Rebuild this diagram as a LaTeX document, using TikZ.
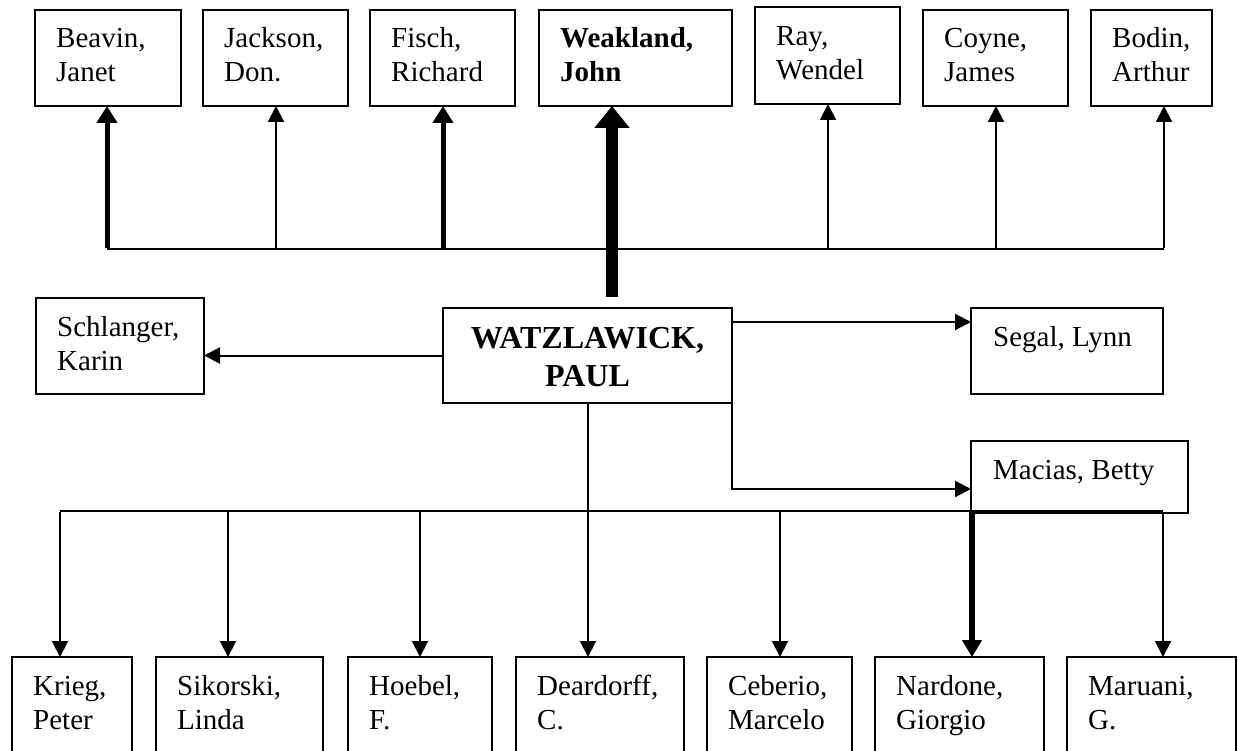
\documentclass[tikz,border=0pt]{standalone}
\usepackage{fontspec}
\setmainfont{Liberation Serif}
\usetikzlibrary{arrows.meta}
\newcommand\twoline[2]{\begin{tabular}[t]{@{}l@{}}#1\\#2\end{tabular}}
\newcommand\twolinec[2]{\begin{tabular}[t]{@{}c@{}}#1\\#2\end{tabular}}
\begin{document}
\begin{tikzpicture}[x=1pt,y=-1pt,
  box/.style={draw, line width=1.8pt, inner sep=0pt, outer sep=0pt, anchor=north west},
  lbl/.style={anchor=base west, inner sep=0pt, font=\fontsize{29}{34}\selectfont},
  blbl/.style={lbl, font=\fontsize{29}{34}\selectfont\bfseries},
  clbl/.style={anchor=base, inner sep=0pt, font=\fontsize{32}{38}\selectfont\bfseries},
  conn/.style={line width=2pt},
  arr/.style={conn, -{Triangle[width=16pt,length=16pt]}},
  arrthick/.style={line width=5pt, -{Triangle[width=20pt,length=17pt]}},
  arrnard/.style={line width=6pt, -{Triangle[width=19pt,length=17pt]}},
  arrbig/.style={line width=12pt, -{Triangle[width=34pt,length=22pt]}}]
\clip (0,0) rectangle (1238,751);
\fill[white] (0,0) rectangle (1238,751);

% top row
\node[box, minimum width=146pt, minimum height=96pt] (beavin) at (35,10) {};
\node[box, minimum width=145pt, minimum height=96pt] (jackson) at (203,10) {};
\node[box, minimum width=145pt, minimum height=96pt] (fisch) at (370,10) {};
\node[box, minimum width=193pt, minimum height=96pt] (weakland) at (539,10) {};
\node[box, minimum width=145pt, minimum height=97pt] (ray) at (755,7) {};
\node[box, minimum width=145pt, minimum height=96pt] (coyne) at (923,10) {};
\node[box, minimum width=121pt, minimum height=96pt] (bodin) at (1091,10) {};

\node[lbl] (beavin-t) at (56,48) {\twoline{Beavin,}{Janet}};
\node[lbl] (jackson-t) at (224,48) {\twoline{Jackson,}{Don.}};
\node[lbl] (fisch-t) at (391,48) {\twoline{Fisch,}{Richard}};
\node[blbl] (weakland-t) at (560,48) {\twoline{Weakland,}{John}};
\node[lbl] (ray-t) at (776,46) {\twoline{Ray,}{Wendel}};
\node[lbl] (coyne-t) at (944,48) {\twoline{Coyne,}{James}};
\node[lbl] (bodin-t) at (1112,48) {\twoline{Bodin,}{Arthur}};

% middle row
\node[box, minimum width=168pt, minimum height=96pt] (schlanger) at (36,298) {};
\node[box, minimum width=289pt, minimum height=95pt] (watz) at (443,308) {};
\node[box, minimum width=192pt, minimum height=86pt] (segal) at (971,308) {};
\node[box, minimum width=217pt, minimum height=72pt] (macias) at (971,441) {};

\node[lbl] (schlanger-t) at (57,336) {\twoline{Schlanger,}{Karin}};
\node[clbl] (watz-t) at (587.5,348) {\twolinec{WATZLAWICK,}{PAUL}};
\node[lbl] (segal-t) at (993,346) {Segal, Lynn};
\node[lbl] (macias-t) at (993,479) {Macias, Betty};

% bottom row
\node[box, minimum width=120pt, minimum height=110pt] (krieg) at (12,657) {};
\node[box, minimum width=167pt, minimum height=110pt] (sikorski) at (156,657) {};
\node[box, minimum width=144pt, minimum height=110pt] (hoebel) at (348,657) {};
\node[box, minimum width=168pt, minimum height=110pt] (deardorff) at (516,657) {};
\node[box, minimum width=145pt, minimum height=110pt] (ceberio) at (707,657) {};
\node[box, minimum width=169pt, minimum height=110pt] (nardone) at (875,657) {};
\node[box, minimum width=169pt, minimum height=110pt] (maruani) at (1067,657) {};

\node[lbl] (krieg-t) at (33,695) {\twoline{Krieg,}{Peter}};
\node[lbl] (sikorski-t) at (177,695) {\twoline{Sikorski,}{Linda}};
\node[lbl] (hoebel-t) at (369,695) {\twoline{Hoebel,}{F.}};
\node[lbl] (deardorff-t) at (537,695) {\twoline{Deardorff,}{C.}};
\node[lbl] (ceberio-t) at (728,695) {\twoline{Ceberio,}{Marcelo}};
\node[lbl] (nardone-t) at (896,695) {\twoline{Nardone,}{Giorgio}};
\node[lbl] (maruani-t) at (1088,695) {\twoline{Maruani,}{G.}};

% top bus
\coordinate (tb1) at (107,249);
\coordinate (tb2) at (276,249);
\coordinate (tb3) at (443,249);
\coordinate (tb5) at (828,249);
\coordinate (tb6) at (996,249);
\coordinate (tb7) at (1164,249);
\coordinate (wstart) at (612,297);
\draw[conn] (tb1) -- (tb7);
\draw[arrthick] ([yshift=1pt]tb1) -- (tb1 |- beavin.south);
\draw[arr] (tb2) -- (tb2 |- jackson.south);
\draw[arrthick] (tb3) -- (tb3 |- fisch.south);
\draw[arrbig] (wstart) -- (wstart |- weakland.south);
\draw[arr] (tb5) -- (tb5 |- ray.south);
\draw[arr] (tb6) -- (tb6 |- coyne.south);
\draw[arr] ([yshift=1pt]tb7) -- (tb7 |- bodin.south);

% middle connectors
\coordinate (sg) at (732,322);
\coordinate (mc) at (732,489);
\draw[arr] (watz.west) -- (watz.west -| schlanger.east);
\draw[arr] (sg) -- (sg -| segal.west);
\draw[arr] (watz.south east) -- (mc) -- (mc -| macias.west);

% bottom bus
\coordinate (bb0) at (587.5,511);
\coordinate (bb1) at (60,511);
\coordinate (bb2) at (228,511);
\coordinate (bb3) at (420,511);
\coordinate (bb4) at (588,511);
\coordinate (bb5) at (780,511);
\coordinate (bb6) at (972,511);
\coordinate (bb7) at (1163,511);
\draw[conn] (watz.south) -- (bb0);
\draw[conn] (bb1) -- (bb7);
\draw[arr] ([yshift=-1pt]bb1) -- (bb1 |- krieg.north);
\draw[arr] (bb2) -- (bb2 |- sikorski.north);
\draw[arr] (bb3) -- (bb3 |- hoebel.north);
\draw[arr] (bb4) -- (bb4 |- deardorff.north);
\draw[arr] (bb5) -- (bb5 |- ceberio.north);
\draw[arrnard] (bb6) -- (bb6 |- nardone.north);
\draw[arr] ([yshift=-1pt]bb7) -- (bb7 |- maruani.north);
\end{tikzpicture}
\end{document}
